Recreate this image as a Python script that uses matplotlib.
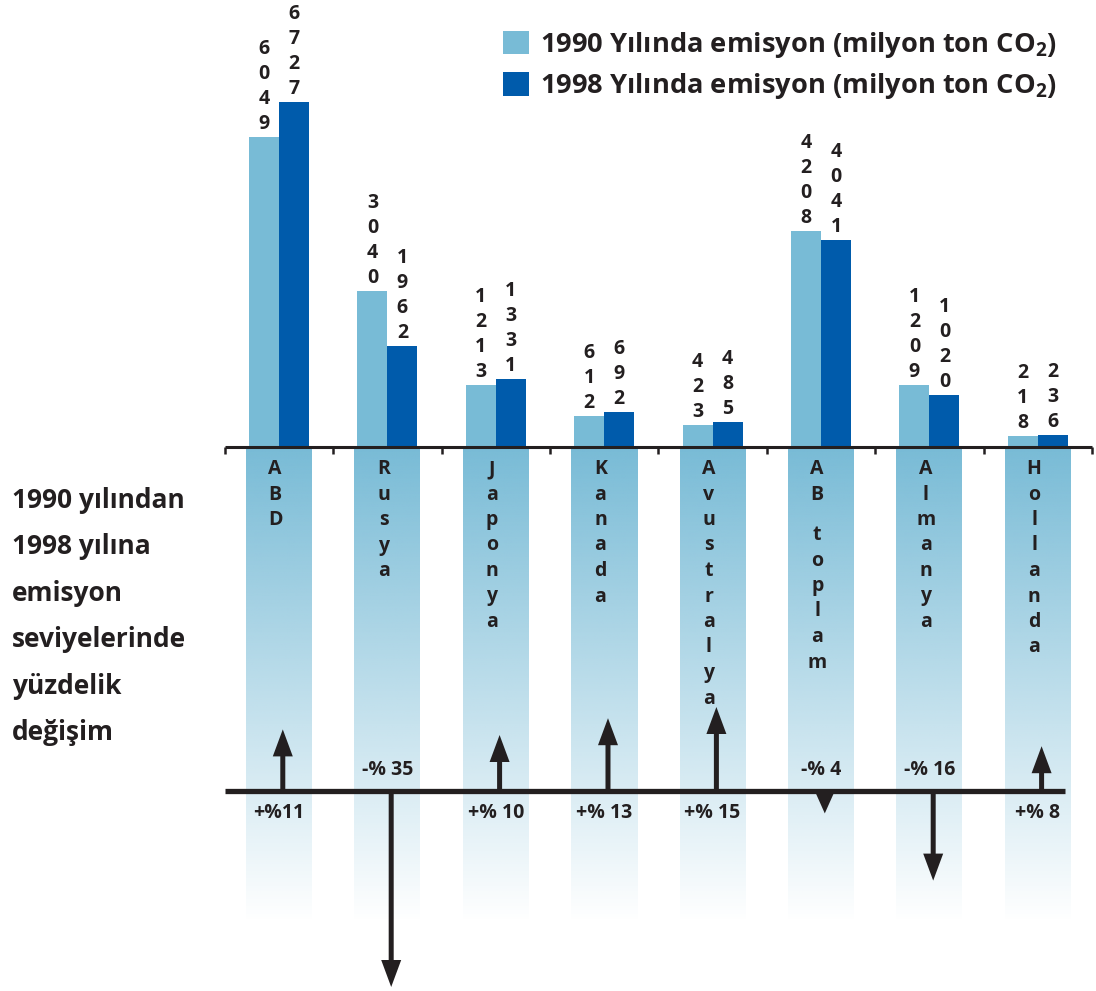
import matplotlib
matplotlib.use("Agg")
import matplotlib.pyplot as plt
import matplotlib.markers as mmarkers
import numpy as np
from matplotlib.patches import Patch, FancyArrow
from matplotlib.colors import to_rgb

# ---------------- data ----------------
countries = ["ABD", "Rusya", "Japonya", "Kanada", "Avustralya", "AB toplam", "Almanya", "Hollanda"]
emis_1990 = [6049, 3040, 1213, 612, 423, 4208, 1209, 218]
emis_1998 = [6727, 1962, 1331, 692, 485, 4041, 1020, 236]
pct_change = [11, -35, 10, 13, 15, -4, -16, 8]
pct_labels = ["+%11", "-% 35", "+% 10", "+% 13", "+% 15", "-% 4", "-% 16", "+% 8"]
legend_labels = ["1990 Yılında emisyon (milyon ton CO$_2$)",
                 "1998 Yılında emisyon (milyon ton CO$_2$)"]
side_lines = ["1990 yılından", "1998 yılına", "emisyon", "seviyelerinde", "yüzdelik", "değişim"]

# ---------------- style ----------------
W, H, DPI = 1096, 991, 100
C_LIGHT = "#78bbd6"
C_DARK = "#005bab"
C_TEXT = "#231f20"
FONT = ["Open Sans", "DejaVu Sans"]

plt.rcParams["font.family"] = FONT
plt.rcParams["mathtext.fontset"] = "custom"
plt.rcParams["mathtext.rm"] = "Open Sans:bold"
plt.rcParams["mathtext.default"] = "rm"

# layout (pixels)
X0_PX, GROUP_PX = 279.0, 108.4
BASE_PX = 447.0           # bar baseline, from top
EMI_SCALE = 0.0513        # px per emission unit
PCT_LINE_PX = 791.0       # percent line, from top
PCT_SCALE = 5.6           # px per percent
COL_BOTTOM_PX = 922.0
BAR_W = 30 / GROUP_PX
COL_W = 66 / GROUP_PX

fig = plt.figure(figsize=(W / DPI, H / DPI), dpi=DPI)
fig.patch.set_facecolor("white")

xl = ((0 - X0_PX) / GROUP_PX, (W - X0_PX) / GROUP_PX)

# ---------- emissions axes ----------
ax = fig.add_axes([0, 0, 1, 1])
ax.axis("off")
x = np.arange(len(countries))

# gradient columns below baseline
col_bottom = -(COL_BOTTOM_PX - BASE_PX) / EMI_SCALE
grad = np.zeros((256, 1, 4))
grad[:, 0, :3] = to_rgb(C_LIGHT)
grad[:, 0, 3] = np.linspace(1, 0, 256)
for i in x:
    ax.imshow(grad, extent=(i - COL_W / 2, i + COL_W / 2, col_bottom, 0),
              aspect="auto", interpolation="bilinear", zorder=0)

ax.bar(x - BAR_W / 2, emis_1990, width=BAR_W, color=C_LIGHT, zorder=2)
ax.bar(x + BAR_W / 2, emis_1998, width=BAR_W, color=C_DARK, zorder=2)

# baseline with ticks
bounds = np.arange(len(countries) + 1) - 0.5
ax.plot([bounds[0], bounds[-1]], [0, 0], color=C_TEXT, lw=2.2, zorder=3,
        solid_capstyle="butt")
ax.plot(bounds, np.zeros_like(bounds), linestyle="none",
        marker=mmarkers.TICKDOWN, markersize=5, mew=1.8, color=C_TEXT, zorder=3)

# stacked digit labels
for vals, dx in ((emis_1990, -BAR_W / 2), (emis_1998, BAR_W / 2)):
    for i, v in enumerate(vals):
        for k, d in enumerate(reversed(str(v))):
            ax.annotate(d, (i + dx, v), xytext=(0, 13 + 25 * k),
                        textcoords="offset pixels", ha="center", va="center",
                        fontsize=14, fontweight="bold", color=C_TEXT,
                        annotation_clip=False)

# vertical country names
for i, name in enumerate(countries):
    off = -22.0
    for ch in name:
        if ch == " ":
            off -= 15
            continue
        ax.annotate(ch, (i - 0.035, 0), xytext=(0, off), textcoords="offset pixels",
                    ha="center", va="center", fontsize=14, fontweight="bold",
                    color=C_TEXT, annotation_clip=False)
        off -= 25.5

ax.set_xlim(*xl)
ax.set_ylim(-(H - BASE_PX) / EMI_SCALE, BASE_PX / EMI_SCALE)

# legend
handles = [Patch(facecolor=C_LIGHT, edgecolor="none"),
           Patch(facecolor=C_DARK, edgecolor="none")]
ax.legend(handles, legend_labels, loc="upper left",
          bbox_to_anchor=(503 / W, 1 - 30 / H), bbox_transform=fig.transFigure,
          frameon=False, prop={"family": FONT, "weight": "bold", "size": 19.6},
          labelcolor=C_TEXT, handlelength=0.95, handleheight=0.93,
          handletextpad=0.42, labelspacing=0.42, borderpad=0, borderaxespad=0)

# ---------- percent-change axes ----------
axp = fig.add_axes([0, 0, 1, 1])
axp.axis("off")
axp.patch.set_alpha(0)
axp.plot([-0.5, 7.25], [0, 0], color=C_TEXT, lw=3.8, solid_capstyle="butt", zorder=3)

SHAFT_W = 5 / GROUP_PX
HEAD_W = 20 / GROUP_PX
HEAD_LEN = 27 / PCT_SCALE
for i, p in enumerate(pct_change):
    hl = min(HEAD_LEN, abs(p))
    axp.add_patch(FancyArrow(i + 0.035, 0, 0, p, width=SHAFT_W, head_width=HEAD_W,
                             head_length=hl, length_includes_head=True,
                             color=C_TEXT, lw=0, zorder=4))
    axp.annotate(pct_labels[i], (i, 0), xytext=(0, -22 if p > 0 else 21),
                 textcoords="offset pixels", ha="center", va="center",
                 fontsize=14, fontweight="bold", color=C_TEXT,
                 annotation_clip=False)

axp.set_xlim(*xl)
axp.set_ylim(-(H - PCT_LINE_PX) / PCT_SCALE, PCT_LINE_PX / PCT_SCALE)

# side caption
for k, line in enumerate(side_lines):
    fig.text(12 / W, 1 - (500 + 46.6 * k) / H, line, ha="left", va="center",
             fontsize=19, fontweight="bold", color=C_TEXT)

fig.savefig("out.png", dpi=DPI, facecolor="white")
